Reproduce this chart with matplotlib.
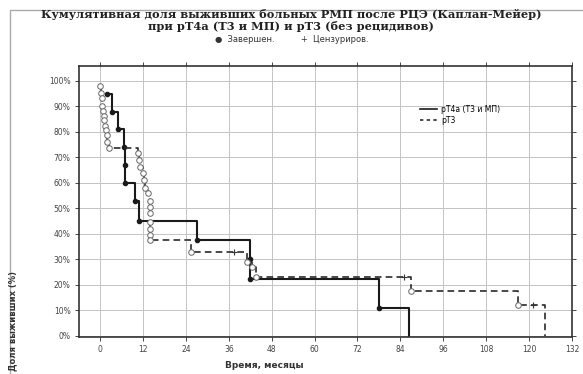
import matplotlib.pyplot as plt
from matplotlib.lines import Line2D
from matplotlib.patches import Rectangle

# pT4a (T3 и МП): event times (months) and survival after each event, %
pt4a_time = [2, 3.3, 5, 6.7, 7, 7, 9.7, 10.8, 27, 42, 42, 78, 86.5]
pt4a_surv = [94.7, 87.5, 81, 74, 67, 60, 53, 45, 37.5, 30, 22.5, 11, 0]

# pT3
pt3_time = [0, 0.2, 0.4, 0.6, 0.8, 1.0, 1.2, 1.4, 1.6, 1.8, 2.0, 2.6,
            10.5, 10.8, 11.1, 11.9, 12.2, 12.5, 13.3, 13.9, 13.9, 13.9, 13.9, 13.9, 13.9, 14.0,
            25.5, 41, 42.5, 43.5, 87, 117, 124.5]
pt3_surv = [98, 95.3, 93, 90, 88, 86, 84.4, 82.4, 80.5, 78.5, 75.8, 73.5,
            71.5, 68.8, 66, 63.7, 61, 58, 56, 53, 50.4, 48, 44.5, 42, 39.5, 37.5,
            33, 29, 27, 23, 17.5, 12, 0]
pt3_cens_time = [37.5, 85, 121]
pt3_cens_surv = [33, 23, 12]

xticks = list(range(0, 133, 12))
yticks = list(range(0, 101, 10))

fig = plt.figure(figsize=(5.83, 3.74), dpi=100)
ax = fig.add_axes([79 / 583, 1 - 337 / 374, (572 - 79) / 583, (337 - 66) / 374])

ax.set_axisbelow(True)
ax.grid(True, color='#c4c4c4', linewidth=0.7)

ax.step(pt4a_time, pt4a_surv, where='post', color='#1a1a1a', linewidth=1.5)
ax.plot(pt4a_time[:-1], pt4a_surv[:-1], 'o', color='#1a1a1a', markersize=3)

ax.step(pt3_time, pt3_surv, where='post', color='#2a2a2a', linewidth=1.2, dashes=(4, 2.5))
ax.plot(pt3_time[:-1], pt3_surv[:-1], 'o', markerfacecolor='white', markeredgecolor='#666666',
        markersize=4, markeredgewidth=0.7)
ax.plot(pt3_cens_time, pt3_cens_surv, '+', color='#333333', markersize=4, markeredgewidth=0.8)

ax.set_xlim(-5.9, 132)
ax.set_ylim(-0.4, 105.7)
ax.set_xticks(xticks)
ax.set_yticks(yticks)
ax.set_yticklabels([f'{v}%' for v in yticks])
ax.tick_params(axis='both', labelsize=5.5, length=3, width=0.7, colors='#444444', pad=3)
ax.tick_params(top=True, right=True)
for s in ax.spines.values():
    s.set_linewidth(1.2)
    s.set_color('#333333')

# legend inside the axes
handles = [Line2D([], [], color='#1a1a1a', linewidth=1.2),
           Line2D([], [], color='#2a2a2a', linewidth=1.2, dashes=(2, 2))]
ax.legend(handles, ['pT4a (T3 и МП)', 'pT3'], loc='upper left',
          bbox_to_anchor=(416 / 583, 1 - 101 / 374), bbox_transform=fig.transFigure,
          frameon=False, fontsize=5.5, handlelength=2.2, handletextpad=0.6,
          borderpad=0, labelspacing=0.3)

# titles
fig.text(0.5, 1 - 15 / 374, 'Кумулятивная доля выживших больных РМП после РЦЭ (Каплан-Мейер)',
         ha='center', va='center', fontsize=8.2, fontweight='bold', family='DejaVu Serif', color='#222222')
fig.text(0.5, 1 - 27 / 374, 'при pT4a (T3 и МП) и pT3 (без рецидивов)',
         ha='center', va='center', fontsize=8.2, fontweight='bold', family='DejaVu Serif', color='#222222')
fig.text(0.5, 1 - 39 / 374, '●  Завершен.          +  Цензуриров.',
         ha='center', va='center', fontsize=6, color='#333333')

fig.text(225 / 583, 1 - 366 / 374, 'Время, месяцы', ha='left', va='center',
         fontsize=6.5, fontweight='bold', color='#333333')
fig.text(13 / 583, 1 - 371 / 374, 'Доля выживших (%)', rotation=90, ha='center', va='bottom',
         fontsize=6, fontweight='bold', color='#333333')

# scanned page frame
fig.patches.append(Rectangle((10 / 583, -0.05), 1.0, 1 - 10 / 374 + 0.05, transform=fig.transFigure,
                             fill=False, edgecolor='#aaaaaa', linewidth=1.0))

fig.savefig('out.png', dpi=100)
